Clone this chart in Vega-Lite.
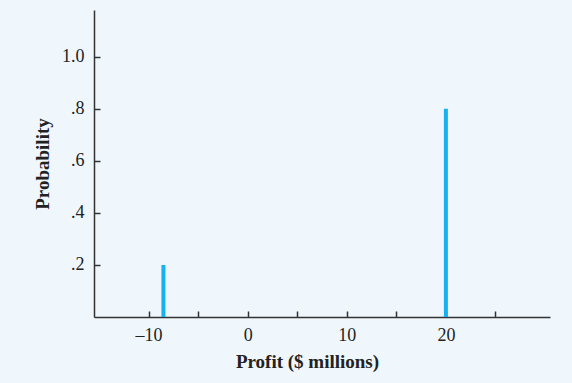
{
  "$schema": "https://vega.github.io/schema/vega-lite/v6.json",
  "width": 456,
  "height": 307,
  "autosize": {"type": "none"},
  "padding": {"left": 94, "top": 10, "right": 22, "bottom": 66},
  "background": "#eff7fd",
  "config": {
    "view": {"stroke": null},
    "axis": {
      "labelFont": "Liberation Serif",
      "titleFont": "Liberation Serif",
      "labelFontSize": 18,
      "titleFontSize": 19,
      "labelColor": "#222",
      "titleColor": "#222",
      "domainColor": "#333",
      "tickColor": "#333",
      "domainWidth": 1.5,
      "tickWidth": 1.5,
      "grid": false
    }
  },
  "data": {
    "values": [
      {"profit": -8.5, "probability": 0.2},
      {"profit": 20, "probability": 0.8}
    ]
  },
  "mark": {"type": "bar", "color": "#16b1f0", "size": 4},
  "encoding": {
    "x": {
      "field": "profit",
      "type": "quantitative",
      "scale": {"domain": [-15, 30], "nice": false, "zero": false},
      "axis": {
        "title": "Profit ($ millions)",
        "values": [-10, -5, 0, 5, 10, 15, 20, 25],
        "labelExpr": "datum.value % 10 == 0 ? (datum.value < 0 ? '–' + format(-datum.value, 'd') : format(datum.value, 'd')) : ''",
        "tickSize": -6,
        "labelFontSize": 18,
        "titleFontSize": 19,
        "labelPadding": 15,
        "titlePadding": 8,
        "titleX": 213
      }
    },
    "y": {
      "field": "probability",
      "type": "quantitative",
      "scale": {"domain": [0, 1.18], "nice": false},
      "axis": {
        "title": "Probability",
        "values": [0.2, 0.4, 0.6, 0.8, 1.0],
        "labelExpr": "datum.value == 1 ? '1.0' : replace(format(datum.value, '.1f'), '0.', '.')",
        "tickSize": -6,
        "labelFontSize": 18,
        "titleFontSize": 19,
        "labelPadding": 16,
        "titlePadding": 9
      }
    }
  }
}
